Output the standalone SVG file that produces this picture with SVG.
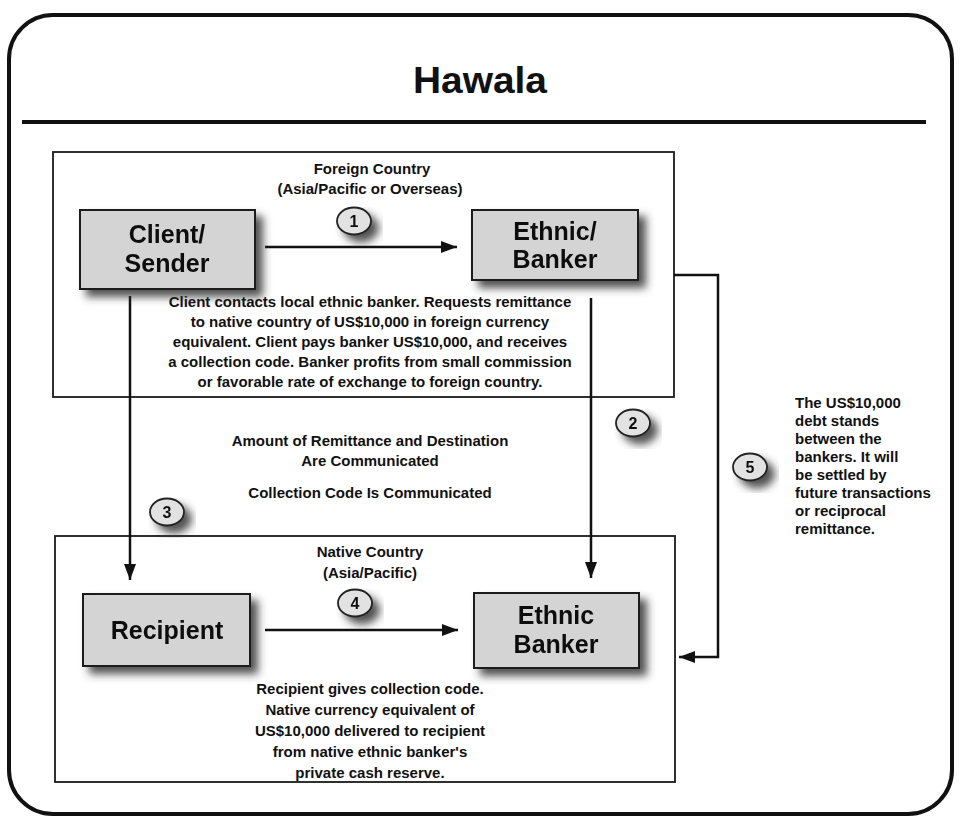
<svg xmlns="http://www.w3.org/2000/svg" width="961" height="821" viewBox="0 0 961 821">
<defs>
<filter id="sh" x="-25%" y="-25%" width="160%" height="170%">
<feGaussianBlur in="SourceAlpha" stdDeviation="4"/>
<feOffset dx="7" dy="7" result="b"/>
<feFlood flood-color="#333" flood-opacity="0.85"/>
<feComposite in2="b" operator="in" result="s"/>
<feMerge><feMergeNode in="s"/><feMergeNode in="SourceGraphic"/></feMerge>
</filter>
<marker id="ah" viewBox="0 0 16 12" refX="16" refY="6" markerWidth="16" markerHeight="12" markerUnits="userSpaceOnUse" orient="auto">
<path d="M0,0 L16,6 L0,12 Z" fill="#111"/>
</marker>
</defs>
<style>
text{font-family:"Liberation Sans",Arial,sans-serif;font-weight:bold;fill:#111}
.node rect{fill:#d4d4d4;stroke:#1a1a1a;stroke-width:2}
.nt{font-size:25px;text-anchor:middle}
.sm{font-size:15px;text-anchor:middle}
.rt{font-size:15px}
.region{fill:none;stroke:#1a1a1a;stroke-width:1.8}
.conn line,.conn polyline{stroke:#111;stroke-width:2.5;fill:none;marker-end:url(#ah)}
.badge ellipse{fill:#e2e2e2;stroke:#222;stroke-width:1.8}
.badge text{font-size:16px;text-anchor:middle}
</style>
<rect width="961" height="821" fill="#fff"/>
<rect id="frame" x="9" y="15" width="943" height="799" rx="44" ry="44" fill="none" stroke="#111" stroke-width="4"/>
<text x="480" y="93" font-size="37" text-anchor="middle" textLength="134" lengthAdjust="spacingAndGlyphs">Hawala</text>
<line x1="22" y1="122" x2="926" y2="122" stroke="#111" stroke-width="4"/>

<g id="foreign-country">
<rect class="region" x="53" y="152" width="621" height="245"/>
<text class="sm" x="372" y="174">Foreign Country</text>
<text class="sm" x="370" y="194">(Asia/Pacific or Overseas)</text>
<text class="sm" x="370" y="307">Client contacts local ethnic banker. Requests remittance</text>
<text class="sm" x="370" y="327">to native country of US$10,000 in foreign currency</text>
<text class="sm" x="370" y="347">equivalent. Client pays banker US$10,000, and receives</text>
<text class="sm" x="370" y="367">a collection code. Banker profits from small commission</text>
<text class="sm" x="370" y="387">or favorable rate of exchange to foreign country.</text>
</g>
<g id="native-country">
<rect class="region" x="55" y="536" width="620" height="246"/>
<text class="sm" x="370" y="557">Native Country</text>
<text class="sm" x="370" y="578">(Asia/Pacific)</text>
<text class="sm" x="370" y="694">Recipient gives collection code.</text>
<text class="sm" x="370" y="715">Native currency equivalent of</text>
<text class="sm" x="370" y="736">US$10,000 delivered to recipient</text>
<text class="sm" x="370" y="757">from native ethnic banker's</text>
<text class="sm" x="370" y="778">private cash reserve.</text>
</g>

<g id="connectors" class="conn">
<line x1="265" y1="247" x2="457" y2="247"/>
<line x1="265" y1="630" x2="458" y2="630"/>
<line x1="130" y1="296" x2="130" y2="580"/>
<line x1="591" y1="298" x2="591" y2="578"/>
<polyline points="674,275 718,275 718,657 679,657"/>
</g>

<g id="client-sender" class="node" filter="url(#sh)">
<rect x="80" y="210" width="175" height="79"/>
<text class="nt" x="167" y="243">Client/</text>
<text class="nt" x="167" y="272">Sender</text>
</g>
<g id="ethnic-banker-foreign" class="node" filter="url(#sh)">
<rect x="472" y="210" width="166" height="70"/>
<text class="nt" x="555" y="240">Ethnic/</text>
<text class="nt" x="555" y="268">Banker</text>
</g>
<g id="recipient" class="node" filter="url(#sh)">
<rect x="83" y="594" width="167" height="72"/>
<text class="nt" x="167" y="639">Recipient</text>
</g>
<g id="ethnic-banker-native" class="node" filter="url(#sh)">
<rect x="474" y="593" width="165" height="75"/>
<text class="nt" x="556" y="624">Ethnic</text>
<text class="nt" x="556" y="653">Banker</text>
</g>

<g id="badge-1" class="badge" filter="url(#sh)"><ellipse cx="354" cy="221" rx="17" ry="13.5"/><text x="354" y="227">1</text></g>
<g id="badge-2" class="badge" filter="url(#sh)"><ellipse cx="633" cy="423" rx="17" ry="13.5"/><text x="633" y="429">2</text></g>
<g id="badge-3" class="badge" filter="url(#sh)"><ellipse cx="167" cy="512" rx="17" ry="13.5"/><text x="167" y="518">3</text></g>
<g id="badge-4" class="badge" filter="url(#sh)"><ellipse cx="355" cy="603" rx="17" ry="13.5"/><text x="355" y="609">4</text></g>
<g id="badge-5" class="badge" filter="url(#sh)"><ellipse cx="750" cy="467" rx="17" ry="13.5"/><text x="750" y="473">5</text></g>

<g id="middle-notes">
<text class="sm" x="370" y="446">Amount of Remittance and Destination</text>
<text class="sm" x="370" y="466">Are Communicated</text>
<text class="sm" x="370" y="498">Collection Code Is Communicated</text>
</g>
<g id="note-5" class="rt">
<text x="795" y="408">The US$10,000</text>
<text x="795" y="426">debt stands</text>
<text x="795" y="444">between the</text>
<text x="795" y="462">bankers. It will</text>
<text x="795" y="480">be settled by</text>
<text x="795" y="498">future transactions</text>
<text x="795" y="516">or reciprocal</text>
<text x="795" y="534">remittance.</text>
</g>
</svg>
